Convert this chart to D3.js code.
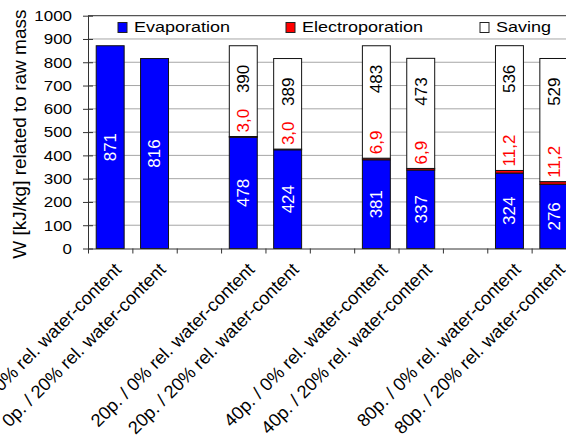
<!DOCTYPE html>
<html><head><meta charset="utf-8">
<script src="https://cdn.jsdelivr.net/npm/d3@7"></script>
<style>html,body{margin:0;padding:0;background:#fff;overflow:hidden}</style>
</head><body>
<svg id="c" width="566" height="437" xmlns="http://www.w3.org/2000/svg"></svg>
<script>
// ---- data ----
const groups = ["0p.", "20p.", "40p.", "80p."];
const waterContents = ["0%", "20%"];
const evaporation = [871, 816, 478, 424, 381, 337, 324, 276];
const electroporation = [0, 0, 3.0, 3.0, 6.9, 6.9, 11.2, 11.2];
const saving = [0, 0, 390, 389, 483, 473, 536, 529];
const yTicks = [0, 100, 200, 300, 400, 500, 600, 700, 800, 900, 1000];
const seriesKeys = ["evaporation", "electroporation", "saving"];
const seriesNames = ["Evaporation", "Electroporation", "Saving"];
const yTitle = "W [kJ/kg] related to raw mass";

// ---- styles / layout ----
const colors = { evaporation: "#0000ff", electroporation: "#ff0000", saving: "#ffffff" };
const labelColors = { evaporation: "#ffffff", electroporation: "#ff0000", saving: "#000000" };
const FONT = "Liberation Sans, Arial, sans-serif";
const plot = { left: 88, right: 576, top: 15.7, bottom: 248.5 };

const categories = groups.flatMap(g => waterContents.map(w => `${g} / ${w} rel. water-content`));
const slots = [];
groups.forEach((g, gi) => {
  waterContents.forEach((w, wi) => slots.push(categories[gi * waterContents.length + wi]));
  if (gi < groups.length - 1) slots.push("gap" + gi);
});

const rows = categories.map((c, i) => ({
  cat: c, evaporation: evaporation[i], electroporation: electroporation[i], saving: saving[i]
}));

const svg = d3.select("#c");
svg.append("rect").attr("width", 566).attr("height", 437).attr("fill", "#fff");

const x = d3.scaleBand().domain(slots).range([plot.left, plot.right]).paddingInner(0.37).paddingOuter(0.185);
const xb = d3.scaleLinear().domain([0, slots.length]).range([plot.left, plot.right]);
const y = d3.scaleLinear().domain([0, 1000]).range([plot.bottom, plot.top]);

// gridlines
svg.append("g").selectAll("line").data(yTicks.filter(t => t > 0 && t < 1000)).join("line")
  .attr("x1", plot.left).attr("x2", plot.right)
  .attr("y1", d => y(d)).attr("y2", d => y(d))
  .attr("stroke", "#a6a6a6").attr("stroke-width", 1);

// top border
svg.append("line").attr("x1", plot.left).attr("x2", plot.right)
  .attr("y1", y(1000)).attr("y2", y(1000)).attr("stroke", "#555").attr("stroke-width", 1.2);

// stacked bars
const stack = d3.stack().keys(seriesKeys)(rows);
const barG = svg.append("g");
stack.forEach(layer => {
  barG.append("g").selectAll("rect").data(layer.filter(d => d[1] - d[0] > 0)).join("rect")
    .attr("x", d => x(d.data.cat))
    .attr("width", x.bandwidth())
    .attr("y", d => y(d[1]))
    .attr("height", d => y(d[0]) - y(d[1]))
    .attr("fill", colors[layer.key])
    .attr("stroke", "#111").attr("stroke-width", 1);
});

// labels
const fmtComma = v => d3.format(".1f")(v).replace(".", ",");
const labG = svg.append("g").attr("font-family", FONT).attr("font-size", 17);
stack.forEach(layer => {
  const key = layer.key;
  layer.filter(d => d[1] - d[0] > 0).forEach(d => {
    const cx = x(d.data.cat) + x.bandwidth() / 2;
    let py, anchor, txt;
    if (key === "evaporation") { py = (y(d[0]) + y(d[1])) / 2; anchor = "middle"; txt = d3.format("d")(d.data[key]); }
    else if (key === "electroporation") { py = y(d[1]) - 4; anchor = "start"; txt = fmtComma(d.data[key]); }
    else { py = y(d[1]) + 19; anchor = "end"; txt = d3.format("d")(d.data[key]); }
    labG.append("text")
      .attr("transform", `translate(${cx},${py}) rotate(-90)`)
      .attr("text-anchor", anchor).attr("dy", "0.35em")
      .attr("fill", labelColors[key]).text(txt);
  });
});

// y axis
const yAxis = svg.append("g").attr("transform", `translate(${plot.left},0)`)
  .call(d3.axisLeft(y).tickValues(yTicks).tickFormat(d3.format("d")).tickSize(5).tickSizeOuter(0).tickPadding(11));
yAxis.select(".domain").attr("stroke", "#333");
yAxis.selectAll(".tick line").attr("x1", 5).attr("stroke", "#333");
yAxis.selectAll(".tick text").each(function () {
  const t = d3.select(this);
  const xx = +t.attr("x");
  t.attr("x", null).attr("transform", `translate(${xx},0) scale(1.13,1)`);
}).attr("font-family", FONT).attr("font-size", 15).attr("fill", "#000");

// x axis (slot boundaries)
const xAxis = svg.append("g").attr("transform", `translate(0,${plot.bottom})`)
  .call(d3.axisBottom(xb).tickValues(d3.range(0, slots.length + 1)).tickSize(5).tickSizeOuter(0).tickFormat(""));
xAxis.select(".domain").attr("stroke", "#333");
xAxis.selectAll(".tick line").attr("stroke", "#333");

// category labels
svg.append("g").attr("font-family", FONT).attr("font-size", 18.2).attr("fill", "#000")
  .selectAll("text").data(categories).join("text")
  .attr("transform", d => `translate(${x(d) + x.bandwidth() / 2 + 3},${plot.bottom + 13}) rotate(-45)`)
  .attr("text-anchor", "end").attr("dy", "0.72em")
  .text(d => d);

// y title
svg.append("text")
  .attr("transform", `translate(26,${(plot.top + plot.bottom) / 2 + 2}) rotate(-90)`)
  .attr("text-anchor", "middle").attr("font-family", FONT).attr("font-size", 19).attr("fill", "#000")
  .text(yTitle);

// legend
const legendX = [118, 286, 480];
const legG = svg.append("g");
seriesKeys.forEach((k, i) => {
  legG.append("rect").attr("x", legendX[i]).attr("y", 22.5).attr("width", 9).attr("height", 10)
    .attr("fill", colors[k]).attr("stroke", "#222").attr("stroke-width", 1);
  legG.append("text").attr("transform", `translate(${legendX[i] + 16},31.5) scale(1.2,1)`)
    .attr("font-family", FONT).attr("font-size", 15).attr("fill", "#000").text(seriesNames[i]);
});
</script>
</body></html>
